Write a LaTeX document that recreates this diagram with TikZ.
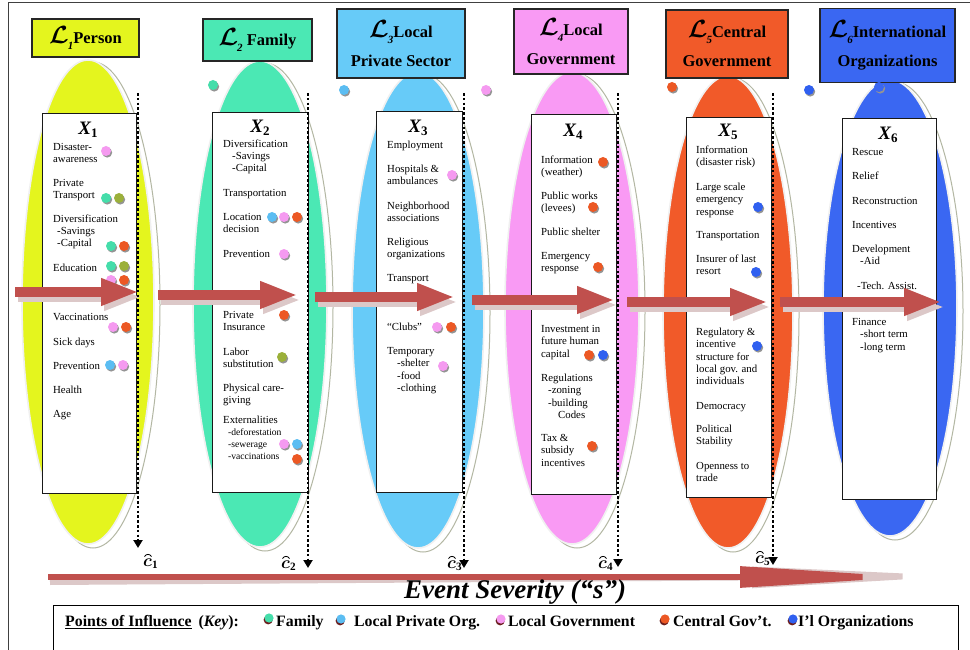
\documentclass[tikz,border=0pt]{standalone}
\usepackage{amsmath}
\usepackage{fontspec}
\setmainfont{Liberation Serif}
\usetikzlibrary{arrows.meta}

\definecolor{cYel}{HTML}{E4F51E}
\definecolor{cMint}{HTML}{4BE8B4}
\definecolor{cLBlue}{HTML}{67CBF8}
\definecolor{cPink}{HTML}{F99AF4}
\definecolor{cOrange}{HTML}{F15A29}
\definecolor{cBlue}{HTML}{3A67F2}
\definecolor{cOlive}{HTML}{9BB03A}
\definecolor{cRed}{HTML}{C0504D}
\definecolor{haloc}{HTML}{B3B7A3}
\definecolor{shadc}{HTML}{DCC8C8}
\definecolor{dMint}{HTML}{45DDAA}
\definecolor{dLBlue}{HTML}{5BBDF2}
\definecolor{dPink}{HTML}{F59AF0}
\definecolor{dOrange}{HTML}{EC5824}
\definecolor{dBlue}{HTML}{3060F0}
\definecolor{keysh}{HTML}{6B1E1E}

% level symbol with its index
\newcommand\Lsub[1]{{\fontsize{25}{25}\selectfont\boldmath$\mathcal{L}$}\kern-1pt\raisebox{-6pt}{\fontsize{11}{11}\selectfont\bfseries\itshape #1}}
% column variable X_i
\newcommand\Xh[1]{{\fontsize{19}{19}\selectfont\bfseries\itshape X}\raisebox{-3pt}{\fontsize{13}{13}\selectfont\bfseries #1}}
% list entry: name, x, y (first line centre), text
\newcommand\itm[4]{\node[itm] (#1) at (#2,#3-5) {\rule{0pt}{8pt}#4};}
\newcommand\sitm[4]{\node[sitm] (#1) at (#2,#3-5) {\rule{0pt}{7.5pt}#4};}
% point-of-influence marker
\newcommand\dotc[3]{\fill[dotsh] (#1+1.2,#2+1.6) circle[radius=5]; \fill[#3] (#1,#2) circle[radius=5];}
\newcommand\kdot[3]{\fill[keysh] (#1-0.8,#2+1.8) circle[radius=4.6]; \fill[#3] (#1,#2) circle[radius=4.6];}
% threshold symbol: bold c with index and an arc over it
\newcommand\chat[4]{%
  \node[clab, anchor=base west] (#1) at (#2,#3) {$\boldsymbol{c}_{\mathbf{#4}}$};
  \draw[line width=0.8pt] ([shift={(1.5,-1.5)}]#1.north west)
    .. controls ([shift={(3,-4.5)}]#1.north west) and ([shift={(7,-4.5)}]#1.north west)
    .. ([shift={(8.5,-1.5)}]#1.north west);}

\begin{document}
\begin{tikzpicture}[x=1pt,y=-1pt,
  halo/.style={draw=haloc, line width=1pt, fill=white},
  lobe/.style={draw=white!94!black, line width=1.6pt},
  hbox/.style={draw=black!85, line width=1.2pt, inner sep=0pt, align=center,
    font=\fontsize{16.5}{29}\selectfont\bfseries},
  xbox/.style={draw=black!90, line width=1.1pt, fill=white, anchor=north west, inner sep=0pt},
  xhead/.style={inner sep=0pt},
  itm/.style={anchor=north west, inner sep=0pt, align=left, font=\fontsize{10.8}{12.4}\selectfont},
  sitm/.style={itm, font=\fontsize{9.6}{12}\selectfont},
  dotsh/.style={fill=black!42},
  dotline/.style={line width=2.8pt, dash pattern=on 2.6pt off 2.2pt,
    -{Triangle[length=8pt,width=9pt]}},
  blockarrow/.style={line width=10pt, draw=cRed, -{Triangle[length=38pt,width=25pt]}},
  blockshadow/.style={line width=10pt, draw=shadc, -{Triangle[length=38pt,width=25pt]}},
  clab/.style={inner sep=0pt, font=\fontsize{16}{16}\selectfont},
  keyt/.style={anchor=base west, inner sep=0pt, font=\fontsize{15.8}{16}\selectfont\bfseries}]

\useasboundingbox (0,0) rectangle (970,650);
\fill[white] (0,0) rectangle (970,650);
\draw[line width=1pt, black!75] (8,650) -- (8,3) -- (970,3);

% ---------- level lobes ----------
\path[halo] (93,305) ellipse [x radius=67, y radius=243];
\path[lobe, fill=cYel] (88,302) ellipse [x radius=66, y radius=242];
\path[halo] (265,307) ellipse [x radius=68, y radius=244];
\path[lobe, fill=cMint] (260,304) ellipse [x radius=67, y radius=243];
\path[halo] (423,313) ellipse [x radius=67, y radius=239];
\path[lobe, fill=cLBlue] (418,310) ellipse [x radius=66, y radius=238];
\path[halo] (577,311) ellipse [x radius=68, y radius=237];
\path[lobe, fill=cPink] (572,308) ellipse [x radius=67, y radius=236];
\path[halo] (733,315) ellipse [x radius=66, y radius=237];
\path[lobe, fill=cOrange] (728,312) ellipse [x radius=65, y radius=236];
\path[halo] (895,311) ellipse [x radius=68, y radius=229];
\path[lobe, fill=cBlue] (890,308) ellipse [x radius=67, y radius=228];

% ---------- level titles ----------
\node[hbox, fill=cYel, minimum width=107pt, minimum height=38pt] (L1) at (85.5,38) {\Lsub{1}Person};
\node[hbox, fill=cMint, minimum width=109pt, minimum height=42pt] (L2) at (257.5,40) {\Lsub{2} Family};
\node[hbox, fill=cLBlue, minimum width=128pt, minimum height=69pt] (L3) at (401,43.5) {\Lsub{3}Local\\Private Sector};
\node[hbox, fill=cPink, minimum width=114pt, minimum height=65pt] (L4) at (571,41.5) {\Lsub{4}Local\\Government};
\node[hbox, fill=cOrange, minimum width=122pt, minimum height=68pt] (L5) at (727,44) {\Lsub{5}Central\\Government};
\node[hbox, fill=cBlue, minimum width=135pt, minimum height=74pt] (L6) at (887.5,45.5) {\Lsub{6}International\\Organizations};

% markers beside the lobe tops
\dotc{213}{85}{dMint}
\dotc{344}{90}{dLBlue}
\dotc{486}{90}{dPink}
\dotc{672}{87}{dOrange}
\dotc{809}{90}{dBlue}
\dotc{879}{87}{cBlue}

% ---------- variable boxes ----------
\node[xbox, minimum width=94pt, minimum height=380pt] (b1) at (42,113) {};
\node[xbox, minimum width=96pt, minimum height=380pt] (b2) at (212,112) {};
\node[xbox, minimum width=86pt, minimum height=381pt] (b3) at (376,111) {};
\node[xbox, minimum width=85pt, minimum height=380pt] (b4) at (531,114) {};
\node[xbox, minimum width=85pt, minimum height=380pt] (b5) at (686,117) {};
\node[xbox, minimum width=94pt, minimum height=381pt] (b6) at (842,118) {};

\node[xhead] (x1) at (88,130) {\Xh{1}};
\node[xhead] (x2) at (260,128) {\Xh{2}};
\node[xhead] (x3) at (418,127.5) {\Xh{3}};
\node[xhead] (x4) at (573,132) {\Xh{4}};
\node[xhead] (x5) at (728,132) {\Xh{5}};
\node[xhead] (x6) at (888,135) {\Xh{6}};

% X1 : person
\itm{p1}{53}{147}{Disaster-\\awareness}
\itm{p2}{53}{183}{Private\\Transport}
\itm{p3}{53}{219}{Diversification\\\hspace*{4pt}-Savings\\\hspace*{4pt}-Capital}
\itm{p4}{53}{268}{Education}
\itm{p5}{53}{317}{Vaccinations}
\itm{p6}{53}{342}{Sick days}
\itm{p7}{53}{366}{Prevention}
\itm{p8}{53}{390}{Health}
\itm{p9}{53}{414}{Age}

% X2 : family
\itm{f1}{223}{144}{Diversification\\\hspace*{9pt}-Savings\\\hspace*{9pt}-Capital}
\itm{f2}{223}{193}{Transportation}
\itm{f3}{223}{217}{Location\\decision}
\itm{f4}{223}{254}{Prevention}
\itm{f5}{223}{315}{Private\\Insurance}
\itm{f6}{223}{352}{Labor\\substitution}
\itm{f7}{223}{388}{Physical care-\\giving}
\itm{f8}{223}{420}{Externalities}
\sitm{f9}{228}{433}{-deforestation\\-sewerage\\-vaccinations}

% X3 : local private sector
\itm{s1}{387}{145}{Employment}
\itm{s2}{387}{169}{Hospitals \&\\ambulances}
\itm{s3}{387}{206}{Neighborhood\\associations}
\itm{s4}{387}{242}{Religious\\organizations}
\itm{s5}{387}{278}{Transport}
\itm{s6}{387}{327}{“Clubs”}
\itm{s7}{387}{351}{Temporary\\\hspace*{10pt}-shelter\\\hspace*{10pt}-food\\\hspace*{10pt}-clothing}

% X4 : local government
\itm{g1}{541}{160}{Information\\(weather)}
\itm{g2}{541}{196}{Public works\\(levees)}
\itm{g3}{541}{232}{Public shelter}
\itm{g4}{541}{256}{Emergency\\response}
\itm{g5}{541}{329}{Investment in\\future human\\capital}
\itm{g6}{541}{378}{Regulations\\\hspace*{7pt}-zoning\\\hspace*{7pt}-building\\\hspace*{17pt}Codes}
\itm{g7}{541}{438}{Tax \&\\subsidy\\incentives}

% X5 : central government
\itm{c1i}{696}{150}{Information\\(disaster risk)}
\itm{c2i}{696}{187}{Large scale\\emergency\\response}
\itm{c3i}{696}{235}{Transportation}
\itm{c4i}{696}{259}{Insurer of last\\resort}
\itm{c5i}{696}{332}{Regulatory \&\\incentive\\structure for\\local gov. and\\individuals}
\itm{c6i}{696}{406}{Democracy}
\itm{c7i}{696}{429}{Political\\Stability}
\itm{c8i}{696}{466}{Openness to\\trade}

% X6 : international organizations
\itm{i1}{852}{152}{Rescue}
\itm{i2}{852}{176}{Relief}
\itm{i3}{852}{201}{Reconstruction}
\itm{i4}{852}{225}{Incentives}
\itm{i5}{852}{249}{Development\\\hspace*{8pt}-Aid}
\itm{i6}{857}{286}{-Tech. Assist.}
\itm{i7}{852}{322}{Finance\\\hspace*{8pt}-short term\\\hspace*{8pt}-long term}

% ---------- markers inside the boxes ----------
\dotc{106}{151}{dPink}
\dotc{106}{198}{dMint}\dotc{119}{198}{cOlive}
\dotc{111}{246}{dMint}\dotc{124}{246}{dOrange}
\dotc{111}{266}{dMint}\dotc{124}{266}{cOlive}
\dotc{111}{280}{dPink}\dotc{124}{280}{dOrange}
\dotc{113}{327}{dPink}\dotc{126}{327}{dOrange}
\dotc{110}{365}{dLBlue}\dotc{123}{365}{dPink}

\dotc{272}{217}{dLBlue}\dotc{284}{217}{dPink}\dotc{297}{217}{dOrange}
\dotc{284}{254}{dPink}
\dotc{284}{315}{dOrange}
\dotc{282}{357}{cOlive}
\dotc{284}{444}{dPink}\dotc{297}{444}{dLBlue}
\dotc{297}{459}{dOrange}

\dotc{452}{175}{dPink}
\dotc{437}{327}{dPink}\dotc{451}{327}{dOrange}
\dotc{443}{366}{dPink}

\dotc{603}{162}{dOrange}
\dotc{593}{207}{dOrange}
\dotc{598}{267}{dOrange}
\dotc{589}{355}{dOrange}\dotc{603}{355}{dBlue}
\dotc{592}{446}{dOrange}

\dotc{758}{207}{dBlue}
\dotc{756}{272}{dBlue}
\dotc{757}{346}{dBlue}

% ---------- flow between levels ----------
\coordinate (a1s) at (15,292);  \coordinate (a1e) at (139,292);
\coordinate (a2s) at (158,295); \coordinate (a2e) at (298,295);
\coordinate (a3s) at (315,297); \coordinate (a3e) at (455,297);
\coordinate (a4s) at (472,300); \coordinate (a4e) at (615,300);
\coordinate (a5s) at (627,302); \coordinate (a5e) at (768,302);
\coordinate (a6s) at (780,302); \coordinate (a6e) at (942,302);
\foreach \k in {1,...,6}{
  \draw[blockshadow] ([shift={(3,5)}]a\k s) -- ([shift={(3,5)}]a\k e);
  \draw[blockarrow] (a\k s) -- (a\k e);}

% ---------- thresholds ----------
\coordinate (d1t) at (138,93);  \coordinate (d1b) at (138,548);
\coordinate (d2t) at (308,93);  \coordinate (d2b) at (308,568);
\coordinate (d3t) at (464,93);  \coordinate (d3b) at (464,568);
\coordinate (d4t) at (618,93);  \coordinate (d4b) at (618,567);
\coordinate (d5t) at (773,93);  \coordinate (d5b) at (773,565);
\foreach \k in {1,...,5}{\draw[dotline] (d\k t) -- (d\k b);}

% ---------- event severity axis ----------
\coordinate (es) at (48,577);
\coordinate (ee) at (915,577);
\draw[line width=6pt, draw=shadc, -{Triangle[length=215pt,width=20pt]}]
  ([shift={(2,5)}]es) -- ([shift={(52,-1)}]ee);
\draw[line width=6pt, draw=cRed, -{Triangle[length=175pt,width=20pt]}] (es) -- (ee);
\node[anchor=base, inner sep=0pt, font=\fontsize{27}{27}\selectfont\bfseries\itshape] (sev) at (515,598) {Event Severity (“s”)};

\chat{ch1}{143}{566}{1}
\chat{ch2}{281}{568}{2}
\chat{ch3}{447}{568}{3}
\chat{ch4}{598}{568}{4}
\chat{ch5}{755}{563}{5}

% ---------- key ----------
\node[draw=black, line width=1pt, anchor=north west, minimum width=905pt, minimum height=70pt, inner sep=0pt] (keybox) at (53,605) {};
\node[keyt] (k0) at (65,626) {\underline{Points of Influence}\hspace{7pt}(\textit{Key}):};
\kdot{269}{618}{dMint}
\node[keyt] (k1) at (276,626) {Family};
\kdot{341}{619}{dLBlue}
\node[keyt] (k2) at (354,626) {Local Private Org.};
\kdot{501}{619}{dPink}
\node[keyt] (k3) at (508,626) {Local Government};
\kdot{665}{619}{dOrange}
\node[keyt] (k4) at (673,626) {Central Gov’t.};
\kdot{793}{619}{dBlue}
\node[keyt] (k5) at (798,626) {I’l Organizations};
\end{tikzpicture}
\end{document}
